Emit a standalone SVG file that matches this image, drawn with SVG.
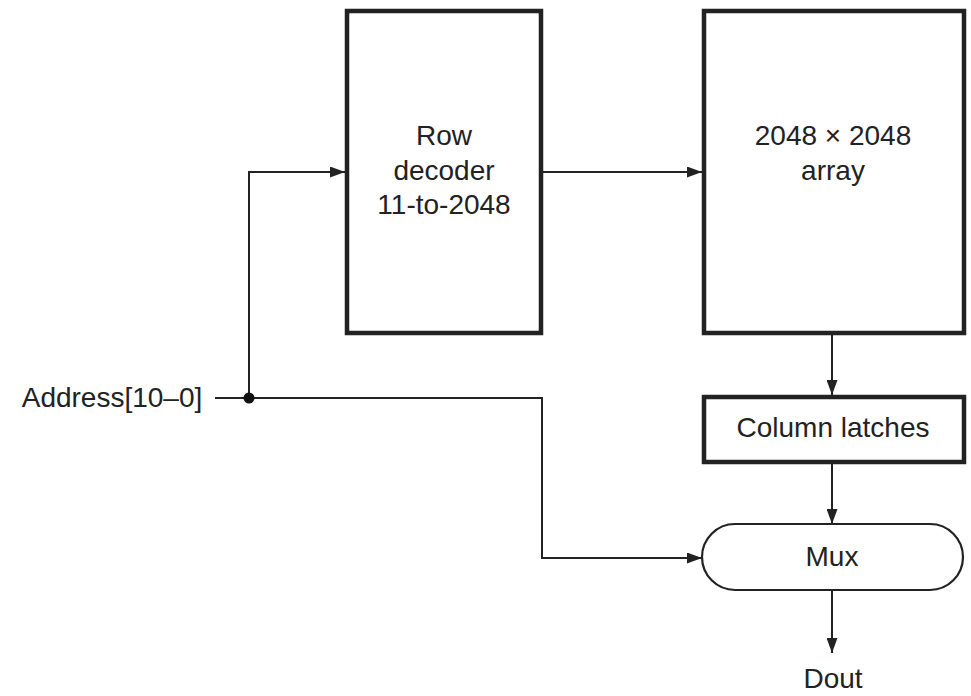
<svg xmlns="http://www.w3.org/2000/svg" width="971" height="696" viewBox="0 0 971 696">
<style>
.box{fill:#fff;stroke:#222;stroke-width:4.5}
.mux{fill:#fff;stroke:#222;stroke-width:2.2}
.wire{fill:none;stroke:#222;stroke-width:2}
.t{font-family:"Liberation Sans",Arial,sans-serif;font-size:28px;fill:#222;text-anchor:middle}
</style>
<defs>
<marker id="ah" markerUnits="userSpaceOnUse" markerWidth="15" markerHeight="11" refX="15" refY="5.5" orient="auto">
<path d="M0,0 L15,5.5 L0,11 Z" fill="#222"/>
</marker>
</defs>
<rect width="971" height="696" fill="#fff"/>
<g id="connectors">
<path class="wire" d="M249,398 V172 H345" marker-end="url(#ah)"/>
<path class="wire" d="M541,172 H702" marker-end="url(#ah)"/>
<path class="wire" d="M215,398 H542 V558 H702" marker-end="url(#ah)"/>
<path class="wire" d="M832,335 V395" marker-end="url(#ah)"/>
<path class="wire" d="M832,464 V524" marker-end="url(#ah)"/>
<path class="wire" d="M832,590 V653" marker-end="url(#ah)"/>
<circle cx="249" cy="398" r="5.5" fill="#111"/>
</g>
<g id="row-decoder">
<rect class="box" x="347" y="11" width="194" height="322"/>
<text class="t" x="444" y="145">Row</text>
<text class="t" x="444" y="180">decoder</text>
<text class="t" x="444" y="214">11-to-2048</text>
</g>
<g id="array">
<rect class="box" x="704" y="11" width="260" height="322"/>
<text class="t" x="833" y="145">2048 × 2048</text>
<text class="t" x="833" y="180">array</text>
</g>
<g id="column-latches">
<rect class="box" x="704" y="397" width="260" height="65"/>
<text class="t" x="833" y="437">Column latches</text>
</g>
<g id="mux">
<rect class="mux" x="702" y="524" width="261" height="66" rx="33" ry="33"/>
<text class="t" x="832" y="566">Mux</text>
</g>
<g id="address">
<text class="t" x="112" y="407">Address[10–0]</text>
</g>
<g id="dout">
<text class="t" x="833" y="688">Dout</text>
</g>
</svg>
